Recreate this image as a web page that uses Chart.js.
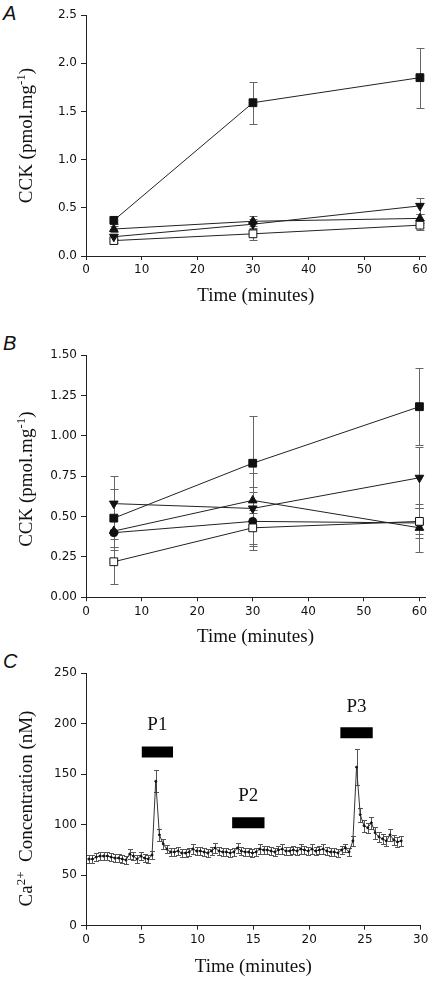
<!DOCTYPE html>
<html>
<head>
<meta charset="utf-8">
<script src="https://cdn.jsdelivr.net/npm/chart.js@4.4.1/dist/chart.umd.min.js"></script>
<style>
  html, body { margin: 0; padding: 0; background: #fff; }
  body { width: 432px; height: 982px; position: relative; overflow: hidden; }
  canvas { position: absolute; left: 0; }
  .panel-tag {
    position: absolute; left: 3px;
    font: italic 20px "Liberation Sans", Arial, sans-serif;
    line-height: 20px; color: #111;
  }
</style>
</head>
<body>
<div class="panel-tag" style="top:3px">A</div>
<div class="panel-tag" style="top:333px">B</div>
<div class="panel-tag" style="top:651px">C</div>
<canvas id="chartA" width="432" height="310" style="top:0"></canvas>
<canvas id="chartB" width="432" height="340" style="top:310px"></canvas>
<canvas id="chartC" width="432" height="332" style="top:650px"></canvas>
<script>
// ---- panel A : CCK release (pmol/mg) ----
const timesA = [5, 30, 60];
const aFilledSq = [0.37, 1.59, 1.85];
const aFilledSqErr = [0.04, 0.22, 0.31];
const aTriUp = [0.28, 0.36, 0.39];
const aTriUpErr = [0.03, 0.05, 0.05];
const aTriDown = [0.20, 0.33, 0.52];
const aTriDownErr = [0.03, 0.05, 0.08];
const aOpenSq = [0.16, 0.23, 0.32];
const aOpenSqErr = [0.02, 0.06, 0.05];

// ---- panel B ----
const timesB = [5, 30, 60];
const bFilledSq = [0.49, 0.83, 1.18];
const bFilledSqErr = [0.18, 0.29, 0.24];
const bTriDown = [0.58, 0.55, 0.74];
const bTriDownErr = [0.17, 0.22, 0.19];
const bTriUp = [0.41, 0.60, 0.43];
const bTriUpErr = [0.10, 0.08, 0.15];
const bCircle = [0.40, 0.47, 0.46];
const bCircleErr = [0.11, 0.18, 0.09];
const bOpenSq = [0.22, 0.43, 0.47];
const bOpenSqErr = [0.14, 0.11, 0.08];

// ---- panel C : Ca2+ trace (nM) ----
const timesC = [
  0.25, 0.58, 0.92, 1.25, 1.58, 1.92, 2.25, 2.58, 2.92, 3.25, 3.58, 3.92,
  4.25, 4.58, 4.92, 5.25, 5.58, 5.92, 6.25, 6.58, 6.92, 7.25, 7.58, 7.92,
  8.25, 8.58, 8.92, 9.25, 9.58, 9.92, 10.25, 10.58, 10.92, 11.25, 11.58, 11.92,
  12.25, 12.58, 12.92, 13.25, 13.58, 13.92, 14.25, 14.58, 14.92, 15.25, 15.58, 15.92,
  16.25, 16.58, 16.92, 17.25, 17.58, 17.92, 18.25, 18.58, 18.92, 19.25, 19.58, 19.92,
  20.25, 20.58, 20.92, 21.25, 21.58, 21.92, 22.25, 22.58, 22.92, 23.25, 23.58, 23.92,
  24.25, 24.58, 24.92, 25.25, 25.58, 25.92, 26.25, 26.58, 26.92, 27.25, 27.58, 27.92,
  28.25
];
const caConc = [
  66, 66, 68, 69, 69, 69, 68, 67, 67, 66, 65, 71,
  69, 66, 69, 67, 66, 70, 143, 90, 81, 76, 73, 73,
  74, 72, 72, 73, 76, 74, 74, 73, 72, 74, 77, 74,
  73, 73, 72, 73, 77, 74, 73, 73, 72, 73, 76, 75,
  75, 74, 73, 75, 76, 74, 74, 75, 74, 76, 75, 74,
  76, 74, 75, 76, 74, 73, 73, 72, 75, 77, 73, 84,
  157, 110, 99, 97, 102, 92, 88, 86, 84, 90, 85, 83,
  84
];
const caErr = [
  4, 4, 4, 4, 4, 4, 4, 4, 4, 4, 4, 5,
  4, 4, 4, 4, 4, 4, 11, 6, 5, 4, 4, 4,
  4, 4, 4, 4, 5, 4, 4, 4, 4, 4, 5, 4,
  4, 4, 4, 4, 5, 4, 4, 4, 4, 4, 5, 4,
  4, 4, 4, 4, 5, 4, 4, 4, 4, 5, 4, 4,
  5, 4, 4, 5, 4, 4, 4, 4, 4, 4, 4, 5,
  18, 7, 6, 5, 6, 6, 5, 5, 5, 6, 5, 5,
  5
];

// stimulus periods shown as black bars
const stimLabels = ['P1', 'P2', 'P3'];
const stimStart = [5.0, 13.1, 22.8];
const stimEnd = [7.8, 16.0, 25.7];
const stimLevel = [172, 102, 191];
const stimLabelLevel = [199, 128, 217];

const INK = '#111';
const SERIF = '"Liberation Serif", "Times New Roman", serif';
const tickFont = { family: '"DejaVu Sans", sans-serif', size: 12 };
const titleFont = { family: SERIF, size: 19 };

const toXY = (xs, ys) => xs.map((x, i) => ({ x, y: ys[i] }));

function series(xs, ys, errs, style) {
  return Object.assign({
    data: toXY(xs, ys),
    errors: errs,
    borderColor: '#222',
    borderWidth: 1,
    tension: 0,
    pointBackgroundColor: INK,
    pointBorderColor: INK,
    pointBorderWidth: 1,
    pointRadius: 5,
    capWidth: 4
  }, style);
}

// vertical error bars with caps, drawn under the markers
const errorBars = {
  id: 'errorBars',
  beforeDatasetsDraw(chart) {
    const { ctx } = chart;
    const xs = chart.scales.x, ys = chart.scales.y;
    ctx.save();
    chart.data.datasets.forEach(ds => {
      if (!ds.errors) return;
      ctx.strokeStyle = ds.errColor || '#666';
      ctx.lineWidth = 1;
      ds.data.forEach((p, i) => {
        const e = ds.errors[i];
        const px = Math.round(xs.getPixelForValue(p.x)) + 0.5;
        const top = Math.round(ys.getPixelForValue(p.y + e)) + 0.5;
        const bot = Math.round(ys.getPixelForValue(p.y - e)) + 0.5;
        const c = ds.capWidth;
        ctx.beginPath();
        ctx.moveTo(px, top); ctx.lineTo(px, bot);
        ctx.moveTo(px - c, top); ctx.lineTo(px + c, top);
        ctx.moveTo(px - c, bot); ctx.lineTo(px + c, bot);
        ctx.stroke();
      });
    });
    ctx.restore();
  }
};

// rotated y title with a real superscript part
const yTitle = {
  id: 'yTitle',
  afterDraw(chart, args, opts) {
    const { ctx, chartArea } = chart;
    const big = `${titleFont.size}px ${SERIF}`;
    const small = `13px ${SERIF}`;
    ctx.save();
    ctx.fillStyle = INK;
    ctx.textBaseline = 'alphabetic';
    const widths = opts.parts.map(p => { ctx.font = p.sup ? small : big; return ctx.measureText(p.text).width; });
    const total = widths.reduce((a, b) => a + b, 0);
    ctx.translate(opts.baseX, (chartArea.top + chartArea.bottom) / 2 + (opts.shift || 0));
    ctx.rotate(-Math.PI / 2);
    let x = -total / 2;
    opts.parts.forEach((p, i) => {
      ctx.font = p.sup ? small : big;
      ctx.fillText(p.text, x, p.sup ? -7 : 0);
      x += widths[i];
    });
    ctx.restore();
  }
};

// P1 / P2 / P3 captions above the bars
const stimCaptions = {
  id: 'stimCaptions',
  afterDatasetsDraw(chart) {
    const { ctx } = chart;
    ctx.save();
    ctx.fillStyle = INK;
    ctx.font = `${titleFont.size}px ${SERIF}`;
    ctx.textAlign = 'center';
    ctx.textBaseline = 'middle';
    stimLabels.forEach((t, i) => {
      const x = chart.scales.x.getPixelForValue((stimStart[i] + stimEnd[i]) / 2);
      const y = chart.scales.y.getPixelForValue(stimLabelLevel[i]);
      ctx.fillText(t, x, y);
    });
    ctx.restore();
  }
};

function axisOptions(cfg) {
  return {
    responsive: false,
    animation: false,
    events: [],
    layout: { padding: { left: 0, top: cfg.padTop, right: cfg.padRight, bottom: 0 } },
    plugins: {
      legend: { display: false },
      tooltip: { enabled: false },
      yTitle: { parts: cfg.yTitle, baseX: 32, shift: cfg.yTitleShift }
    },
    scales: {
      x: {
        type: 'linear',
        min: 0,
        max: cfg.xMax,
        afterFit: s => { s.height = cfg.xHeight; },
        ticks: { stepSize: cfg.xStep, includeBounds: false, maxRotation: 0, autoSkip: false,
                 font: tickFont, color: INK, padding: 3 },
        grid: { drawOnChartArea: false, tickLength: 4, color: '#222' },
        border: { color: '#222' },
        title: { display: true, text: 'Time (minutes)', font: titleFont, color: INK,
                 padding: { top: 0, bottom: cfg.xTitlePad } }
      },
      y: {
        min: 0,
        max: cfg.yMax,
        afterFit: s => { s.width = 86; },
        ticks: { stepSize: cfg.yStep, font: tickFont, color: INK, padding: 4,
                 callback: v => v.toFixed(cfg.yDigits) },
        grid: { drawOnChartArea: false, tickLength: 5, color: '#222' },
        border: { color: '#222' },
        title: { display: false }
      }
    }
  };
}

const cckTitle = [{ text: 'CCK (pmol.mg' }, { text: '-1', sup: true }, { text: ')' }];
const caTitle = [{ text: 'Ca' }, { text: '2+', sup: true }, { text: '  Concentration (nM)' }];

new Chart(document.getElementById('chartA'), {
  type: 'line',
  data: {
    datasets: [
      series(timesA, aFilledSq, aFilledSqErr, { pointStyle: 'rect', pointRadius: 5.5 }),
      series(timesA, aTriUp, aTriUpErr, { pointStyle: 'triangle', pointRadius: 5 }),
      series(timesA, aTriDown, aTriDownErr, { pointStyle: 'triangle', pointRotation: 180, pointRadius: 5 }),
      series(timesA, aOpenSq, aOpenSqErr, { pointStyle: 'rect', pointRadius: 5.5, pointBackgroundColor: '#fff' })
    ]
  },
  options: axisOptions({ padTop: 15, padRight: 5, xMax: 61, xStep: 10, xHeight: 54, xTitlePad: 3,
                         yMax: 2.5, yStep: 0.5, yDigits: 1, yTitle: cckTitle, yTitleShift: 0 }),
  plugins: [errorBars, yTitle]
});

new Chart(document.getElementById('chartB'), {
  type: 'line',
  data: {
    datasets: [
      series(timesB, bFilledSq, bFilledSqErr, { pointStyle: 'rect', pointRadius: 5.5 }),
      series(timesB, bTriDown, bTriDownErr, { pointStyle: 'triangle', pointRotation: 180, pointRadius: 5 }),
      series(timesB, bOpenSq, bOpenSqErr, { pointStyle: 'rect', pointRadius: 5.5, pointBackgroundColor: '#fff' }),
      series(timesB, bTriUp, bTriUpErr, { pointStyle: 'triangle', pointRadius: 5 }),
      series(timesB, bCircle, bCircleErr, { pointStyle: 'circle', pointRadius: 4 })
    ]
  },
  options: axisOptions({ padTop: 45, padRight: 7, xMax: 61, xStep: 10, xHeight: 52.7, xTitlePad: 1.5,
                         yMax: 1.5, yStep: 0.25, yDigits: 2, yTitle: cckTitle, yTitleShift: 3 }),
  plugins: [errorBars, yTitle]
});

const stimBars = stimLabels.map((t, i) => ({
  data: [{ x: stimStart[i], y: stimLevel[i] }, { x: stimEnd[i], y: stimLevel[i] }],
  borderColor: '#000',
  borderWidth: 11,
  borderCapStyle: 'butt',
  pointRadius: 0
}));

new Chart(document.getElementById('chartC'), {
  type: 'line',
  data: {
    datasets: [
      series(timesC, caConc, caErr, { pointRadius: 1, pointStyle: 'circle', capWidth: 2.5,
                                      borderColor: '#333', errColor: '#555' }),
      ...stimBars
    ]
  },
  options: axisOptions({ padTop: 23.3, padRight: 11.3, xMax: 30, xStep: 5, xHeight: 56.3, xTitlePad: 3.5,
                         yMax: 250, yStep: 50, yDigits: 0, yTitle: caTitle, yTitleShift: 9 }),
  plugins: [errorBars, yTitle, stimCaptions]
});
</script>
</body>
</html>
